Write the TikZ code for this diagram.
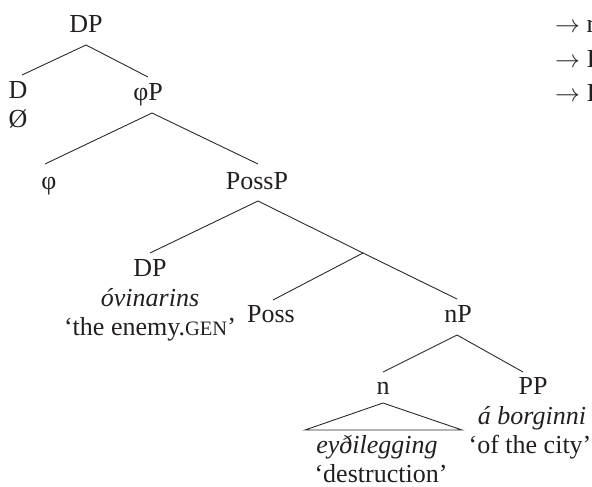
\documentclass[tikz,border=0pt]{standalone}
\usepackage{fontspec}
\setmainfont{Liberation Serif}
\definecolor{ink}{HTML}{231F20}
\definecolor{edgecol}{HTML}{2B2B2B}
\newcommand{\smcap}[1]{{\fontsize{20.5}{24}\selectfont #1}}
\begin{document}
\begin{tikzpicture}[x=1pt,y=-1pt,
  lbl/.style={inner sep=0pt, anchor=base, font=\fontsize{26}{30}\selectfont, text=ink},
  ital/.style={lbl, font=\fontsize{26}{30}\selectfont\itshape},
  branch/.style={draw=edgecol, line width=0.9pt}]
\useasboundingbox (0,0) rectangle (592,487);
\clip (0,0) rectangle (592,487);

% labels
\node[lbl] (dpTop) at (86,33) {DP};
\node[lbl] (dHead) at (18,99) {D};
\node[lbl] (dNull) at (18,128) {Ø};
\node[lbl] (phiP) at (148,100) {φP};
\node[lbl] (phi) at (49,189) {φ};
\node[lbl] (possP) at (257,189) {PossP};
\node[lbl] (dpSpec) at (150,276) {DP};
\node[ital] (ovin) at (150,306) {óvinarins};
\node[lbl] (gl1) at (150,335) {‘the enemy.\smcap{GEN}’};
\node[lbl] (poss) at (271,322) {Poss};
\node[lbl] (nP) at (458,322) {nP};
\node[lbl] (nHead) at (383,394) {n};
\node[lbl] (PP) at (533,394) {PP};
\node[ital] (abor) at (532,424) {á borginni};
\node[lbl] (gl3) at (530,453) {‘of the city’};
\node[ital] (eyd) at (377,453) {eyðilegging};
\node[lbl] (gl2) at (381,482) {‘destruction’};

% lines cut off at the right edge
\node[lbl, anchor=base west] (r1) at (555,33) {$\rightarrow$ r};
\node[lbl, anchor=base west] (r2) at (555,67) {$\rightarrow$ I};
\node[lbl, anchor=base west] (r3) at (555,101) {$\rightarrow$ I};

% connection points
\coordinate (dpTopB) at (86,45);
\coordinate (dHeadT) at (22,75);
\coordinate (phiPT) at (148,77);
\coordinate (phiPB) at (152,113);
\coordinate (phiT) at (45,164);
\coordinate (possPT) at (258,164);
\coordinate (possPB) at (258,201);
\coordinate (dpSpecT) at (150,253);
\coordinate (possBar) at (363,253);
\coordinate (possT) at (273,300);
\coordinate (nPT) at (457,299);
\coordinate (nPB) at (457,335);
\coordinate (nHeadT) at (383,372);
\coordinate (PPT) at (523,372);
\coordinate (nHeadB) at (383,403);
\coordinate (triL) at (305,430);
\coordinate (triR) at (462,430);

% branches
\draw[branch] (dHeadT) -- (dpTopB) -- (phiPT);
\draw[branch] (phiT) -- (phiPB) -- (possPT);
\draw[branch] (dpSpecT) -- (possPB) -- (possBar) -- (nPT);
\draw[branch] (possT) -- (possBar);
\draw[branch] (nHeadT) -- (nPB) -- (PPT);
\draw[branch, line join=miter] (triL) -- (nHeadB) -- (triR) -- cycle;
\end{tikzpicture}
\end{document}
